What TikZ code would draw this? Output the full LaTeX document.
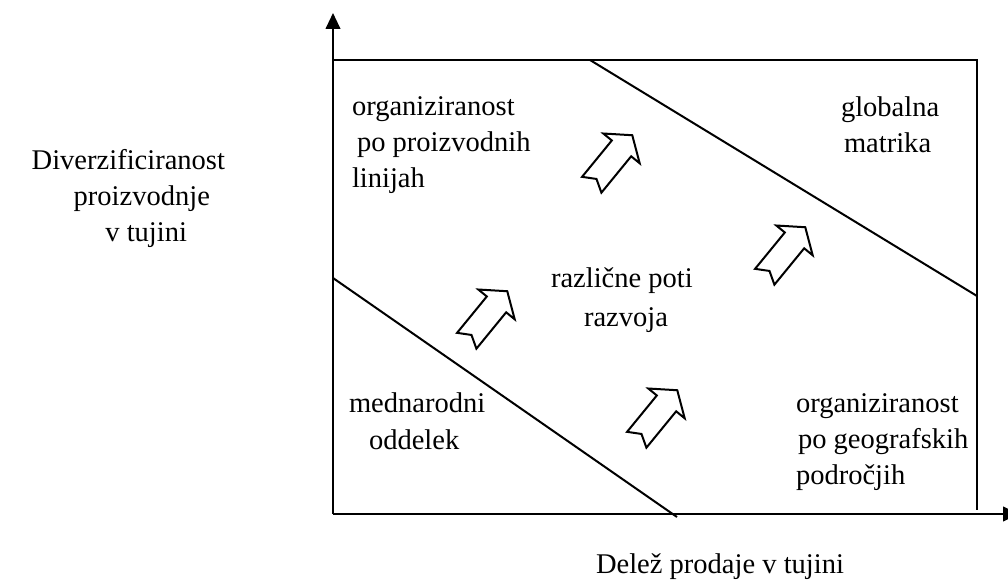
\documentclass[tikz,border=0pt]{standalone}
\usepackage{fontspec}
\setmainfont{Liberation Serif}
\usetikzlibrary{arrows.meta}
\tikzset{
  lbl/.style={anchor=base west, inner sep=0pt, font=\fontsize{21.4pt}{26pt}\selectfont},
  lble/.style={lbl, anchor=base east},
  growth/.pic={
    \draw[line width=1.5pt, fill=white] (-32,-12.5) -- (-24.5,0) -- (-32,12.5) -- (15,12.5)
      -- (15,23.5) -- (32,0) -- (15,-23.5) -- (15,-12.5) -- cycle;
  }
}
\begin{document}
\begin{tikzpicture}[x=0.75pt, y=-0.75pt, line width=1.5pt]
    \useasboundingbox (0,0) rectangle (1008,581);
    \draw[-{Triangle[length=12pt,width=11pt]}] (333,514) -- (333,13);
    \draw[-{Triangle[length=12pt,width=11pt]}] (333,514) -- (1019,514);
    \draw (333,510) -- (333,60) -- (977,60) -- (977,510);
    \draw (590,60) -- (977,296);
    \draw (333,278) -- (677,517);

    \pic[rotate=50.7] (up1) at (612,160) {growth};
    \pic[rotate=50.7] (up2) at (487,316) {growth};
    \pic[rotate=50.7] (up3) at (785,252) {growth};
    \pic[rotate=50.7] (up4) at (657,415) {growth};

    \node[lble] (div1) at (226,170) {Diverzificiranost};
    \node[lble] (div2) at (211,206) {proizvodnje};
    \node[lble] (div3) at (188,242) {v tujini};

    \node[lbl] (prod1) at (351,116) {organiziranost};
    \node[lbl] (prod2) at (356,152) {po proizvodnih};
    \node[lbl] (prod3) at (351,188) {linijah};

    \node[lbl] (glob1) at (840,117) {globalna};
    \node[lbl] (glob2) at (843,153) {matrika};

    \node[lbl] (poti1) at (550,288) {različne poti};
    \node[lbl] (poti2) at (583,326) {razvoja};

    \node[lbl] (medn1) at (348,412) {mednarodni};
    \node[lbl] (medn2) at (368,450) {oddelek};

    \node[lbl] (geo1) at (795,412) {organiziranost};
    \node[lbl] (geo2) at (797,448) {po geografskih};
    \node[lbl] (geo3) at (795,484) {področjih};

    \node[lbl] (xlab) at (595,573) {Delež prodaje v tujini};
\end{tikzpicture}
\end{document}
